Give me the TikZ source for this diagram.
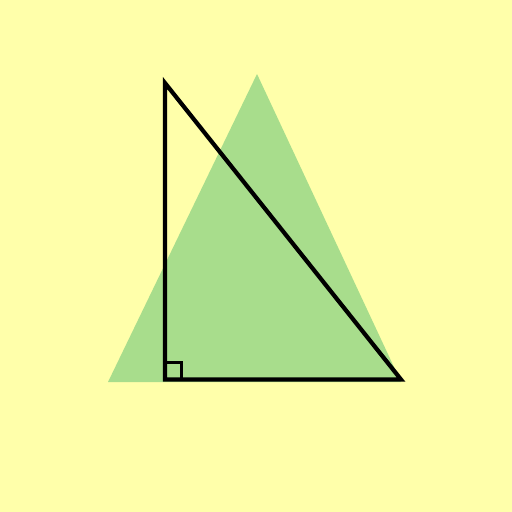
\documentclass[tikz,border=0pt]{standalone}
\usepackage{tikz}
\usetikzlibrary{calc}
\definecolor{paleyellow}{RGB}{255,255,170}
\definecolor{leafgreen}{RGB}{168,221,140}

\begin{document}
\begin{tikzpicture}[x=1pt, y=-1pt]
\fill[paleyellow] (0,0) rectangle (512,512);
\useasboundingbox (0,0) rectangle (512,512);

\coordinate (G1) at (257,74);
\coordinate (G2) at (108,382);
\coordinate (G3) at (401,382);
\fill[leafgreen] (G1)--(G2)--(G3)--cycle;

\coordinate (A) at (165,83);
\coordinate (B) at (165,379.5);
\coordinate (C) at (401,379.5);
\draw[line width=4.2pt, line join=miter] (A)--(B)--(C)--cycle;
\draw[line width=3pt] ($(B)+(0,-17)$)--($(B)+(16,-17)$)--($(B)+(16,0)$);
\end{tikzpicture}
\end{document}
